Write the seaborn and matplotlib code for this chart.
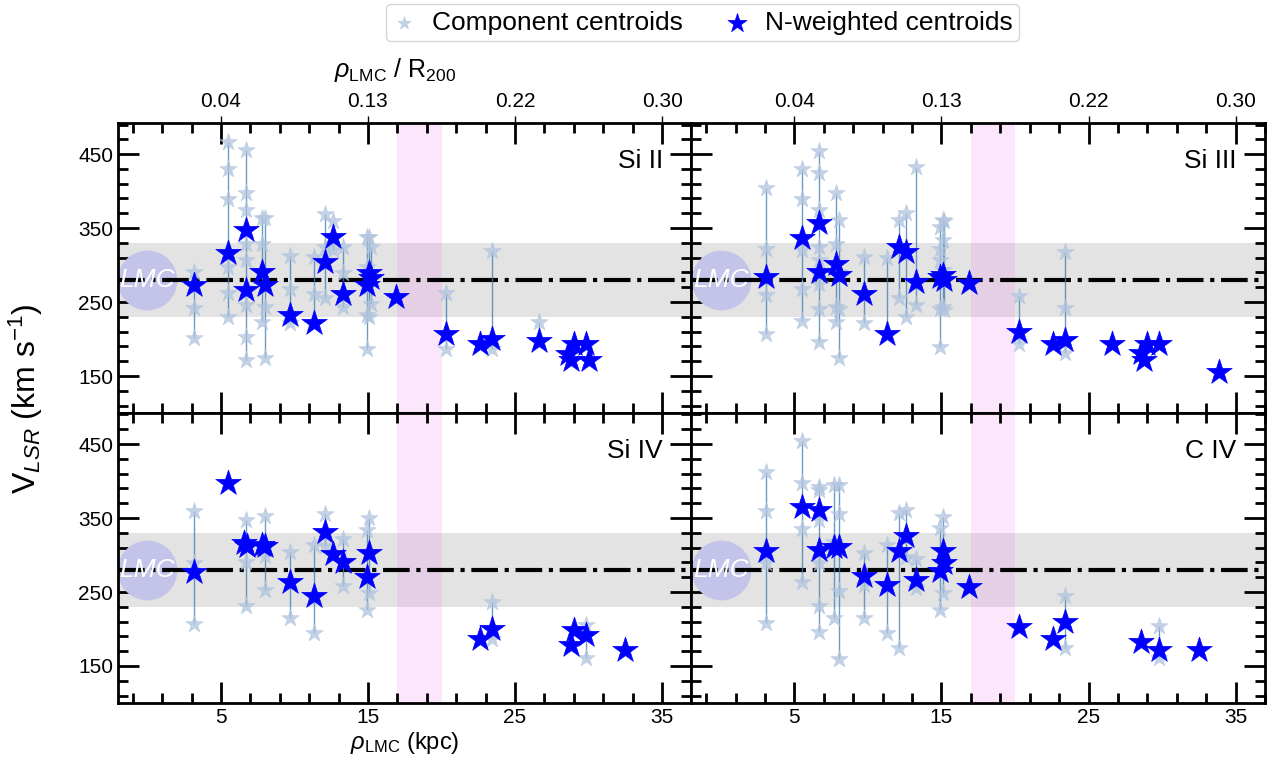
import numpy as np
import pandas as pd
import seaborn as sns
import matplotlib.pyplot as plt
from matplotlib.ticker import MultipleLocator, NullLocator

# ---- data (rho_LMC in kpc, V_LSR in km/s) ----
ions = ['Si II', 'Si III', 'Si IV', 'C IV']

# N-weighted centroids
si2_x = [3.2, 5.5, 6.7, 6.7, 7.8, 8.0, 9.7, 11.3, 12.1, 12.6, 13.3, 14.9, 15.1, 15.2, 16.9,
         20.3, 22.6, 23.4, 26.6, 29.0, 28.6, 28.8, 29.8, 30.0]
si2_v = [273, 316, 347, 266, 291, 273, 232, 222, 304, 338, 261, 273, 289, 282, 257,
         207, 193, 200, 198, 193, 180, 172, 193, 172]
si3_x = [3.1, 5.5, 6.7, 6.7, 7.8, 8.0, 9.7, 11.3, 12.1, 12.6, 13.3, 14.9, 15.1, 15.2, 16.9,
         20.3, 22.6, 23.4, 26.6, 29.0, 28.6, 28.8, 29.8, 33.9]
si3_v = [284, 337, 357, 291, 301, 286, 261, 207, 325, 317, 277, 284, 286, 280, 276,
         209, 193, 199, 193, 193, 181, 171, 193, 155]
si4_x = [3.2, 5.5, 6.6, 6.8, 7.8, 8.0, 9.7, 11.3, 12.1, 12.6, 13.3, 14.9, 15.1,
         22.6, 23.4, 29.0, 28.8, 29.8, 32.5]
si4_v = [277, 397, 316, 312, 314, 312, 264, 245, 331, 301, 290, 270, 303,
         186, 200, 198, 179, 192, 171]
c4_x = [3.1, 5.5, 6.7, 6.7, 7.7, 8.0, 9.7, 11.3, 12.1, 12.6, 13.3, 14.9, 15.1, 15.2, 16.9,
        20.3, 22.6, 23.4, 28.6, 29.8, 32.5]
c4_v = [305, 365, 361, 307, 311, 311, 271, 260, 305, 326, 266, 278, 305, 289, 257,
        203, 187, 209, 182, 171, 171]

# component centroids
si2_comp_x = [3.2, 3.2, 3.2,
              5.5, 5.5, 5.5, 5.5, 5.5, 5.5,
              6.7, 6.7, 6.7, 6.7, 6.7, 6.7, 6.7, 6.7,
              7.8, 7.8, 7.8, 8.0, 8.0, 8.0,
              9.7, 9.7, 9.7, 11.3, 11.3, 12.1, 12.1, 12.1, 12.6, 12.6,
              13.3, 13.3, 13.3, 14.9, 14.9, 14.9, 14.9, 15.1, 15.1, 15.1, 15.2, 15.2,
              20.3, 20.3, 23.4, 23.4, 26.6]
si2_comp_v = [291, 242, 202,
              467, 430, 389, 298, 262, 230,
              456, 398, 375, 328, 307, 246, 203, 171,
              363, 329, 223, 363, 243, 174,
              312, 267, 221, 311, 261, 369, 325, 255, 360, 320,
              325, 289, 243, 338, 298, 232, 187, 338, 270, 230, 325, 248,
              262, 187, 319, 187, 223]
si3_comp_x = [3.1, 3.1, 3.1, 3.1,
              5.5, 5.5, 5.5, 5.5, 5.5,
              6.7, 6.7, 6.7, 6.7, 6.7, 6.7, 6.7, 6.7,
              7.8, 7.8, 7.8, 7.8, 8.0, 8.0, 8.0, 8.0,
              9.7, 9.7, 11.3, 12.1, 12.1, 12.6, 12.6, 13.3, 13.3,
              14.9, 14.9, 14.9, 14.9, 14.9, 15.1, 15.1, 15.1, 15.1, 15.2, 15.2,
              20.3, 20.3, 23.4, 23.4, 23.4]
si3_comp_v = [404, 322, 259, 207,
              430, 389, 320, 267, 225,
              454, 425, 374, 325, 307, 275, 241, 196,
              398, 329, 243, 223, 361, 291, 241, 174,
              311, 222, 309, 361, 255, 370, 230, 433, 246,
              352, 322, 307, 241, 189, 361, 334, 293, 243, 359, 239,
              258, 193, 318, 242, 181]
si4_comp_x = [3.2, 3.2, 3.2, 6.7, 6.7, 6.7, 8.0, 8.0, 8.0,
              9.7, 9.7, 11.3, 11.3, 12.1, 12.1, 13.3, 13.3,
              14.9, 14.9, 15.1, 15.1, 23.4, 23.4, 29.8, 29.8]
si4_comp_v = [359, 289, 207, 348, 290, 231, 353, 299, 253,
              304, 215, 313, 195, 356, 312, 322, 258,
              334, 226, 350, 249, 237, 186, 206, 161]
c4_comp_x = [3.1, 3.1, 3.1, 3.1, 5.5, 5.5, 5.5, 5.5,
             6.7, 6.7, 6.7, 6.7, 6.7, 6.7, 7.7, 7.7, 7.7, 8.0, 8.0, 8.0, 8.0,
             9.7, 9.7, 9.7, 11.3, 11.3, 12.1, 12.1, 12.6, 12.6, 13.3, 13.3,
             14.9, 14.9, 15.1, 15.1, 23.4, 23.4, 29.8, 29.8]
c4_comp_v = [412, 359, 289, 208, 454, 397, 335, 263,
             392, 388, 348, 289, 231, 196, 395, 317, 215, 394, 355, 252, 159,
             303, 260, 215, 313, 195, 357, 174, 361, 298, 295, 255,
             337, 226, 351, 249, 244, 174, 204, 161]

# top axis: rho / R200 labels at the kpc major ticks
kpc_ticks = [5, 15, 25, 35]
r200_labels = ['0.04', '0.13', '0.22', '0.30']

nw_x = [si2_x, si3_x, si4_x, c4_x]
nw_v = [si2_v, si3_v, si4_v, c4_v]
comp_x = [si2_comp_x, si3_comp_x, si4_comp_x, c4_comp_x]
comp_v = [si2_comp_v, si3_comp_v, si4_comp_v, c4_comp_v]

sns.set_style('ticks')
plt.rcParams['font.family'] = ['Liberation Sans', 'DejaVu Sans']
plt.rcParams['mathtext.fontset'] = 'custom'
plt.rcParams['mathtext.rm'] = 'Liberation Sans'
plt.rcParams['mathtext.it'] = 'Liberation Sans:italic'
for key in ['text.color', 'axes.labelcolor', 'xtick.color', 'ytick.color', 'axes.edgecolor']:
    plt.rcParams[key] = 'black'

fig, axes = plt.subplots(2, 2, figsize=(12.77, 7.58), dpi=100, sharex=True, sharey=True)
fig.subplots_adjust(left=0.0924, right=0.9906, bottom=0.0726, top=0.8377, wspace=0, hspace=0)

for i, ax in enumerate(axes.flat):
    cdf = pd.DataFrame({'x': comp_x[i], 'v': comp_v[i]})
    ndf = pd.DataFrame({'x': nw_x[i], 'v': nw_v[i]})

    ax.axhspan(230, 330, color='gray', alpha=0.22, lw=0, zorder=0)
    ax.axvspan(17, 20, color='violet', alpha=0.2, lw=0, zorder=0)
    ax.axhline(280, color='k', ls='-.', lw=3, zorder=2)
    ax.plot([0], [280], 'o', ms=42, color='#c4c4ea', zorder=1)
    ax.text(0, 280, 'LMC', color='white', style='italic', ha='center', va='center',
            fontsize=19, zorder=3)

    # vertical lines joining the components of each sightline
    for xv, grp in cdf.groupby('x'):
        vals = list(grp['v']) + list(ndf.loc[(ndf['x'] - xv).abs() < 0.05, 'v'])
        if max(vals) > min(vals):
            ax.vlines(xv, min(vals), max(vals), color='steelblue', lw=1, alpha=0.8, zorder=2)

    sns.scatterplot(data=cdf, x='x', y='v', ax=ax, marker='*', s=170, color='lightsteelblue',
                    alpha=0.75, edgecolor='lightsteelblue', linewidth=0.5, zorder=3,
                    label='Component centroids')
    sns.scatterplot(data=ndf, x='x', y='v', ax=ax, marker='*', s=370, color='blue',
                    edgecolor='blue', linewidth=0.5, zorder=4, label='N-weighted centroids')
    handles, labels = ax.get_legend_handles_labels()
    ax.get_legend().remove()

    ax.text(0.95, 0.87, ions[i], transform=ax.transAxes, ha='right', va='center', fontsize=19)

    ax.set_xlim(-2, 37)
    ax.set_ylim(100, 492)
    ax.set_xticks(kpc_ticks)
    ax.set_yticks([150, 250, 350, 450])
    ax.xaxis.set_minor_locator(MultipleLocator(2, offset=1))
    ax.yaxis.set_minor_locator(MultipleLocator(20, offset=10))
    ax.tick_params(which='both', direction='in', top=True, right=True, width=2,
                   labelsize=15)
    ax.tick_params(which='major', length=15)
    ax.tick_params(which='minor', length=7)
    for sp in ax.spines.values():
        sp.set_linewidth(2)
    ax.set_xlabel('')
    ax.set_ylabel('')

    if i < 2:
        sec = ax.secondary_xaxis('top')
        sec.set_xticks(kpc_ticks, labels=r200_labels)
        sec.xaxis.set_minor_locator(NullLocator())
        sec.tick_params(direction='out', length=5, width=1, labelsize=15)
        sec.spines['top'].set_visible(False)

axes[1, 0].set_xlabel(r'$\rho_{\rm LMC}$ (kpc)', fontsize=17, labelpad=2)
fig.text(395 / 1277, 1 - 70 / 758, r'$\rho_{\rm LMC}$ / R$_{200}$', ha='center', va='center',
         fontsize=18)
fig.text(0.02, 0.474, r'V$_{LSR}$ (km s$^{-1}$)', rotation=90, ha='center', va='center',
         fontsize=23)

fig.legend(handles, labels, loc='upper center', bbox_to_anchor=(0.55, 1.0), ncol=2,
           fontsize=19, frameon=True, fancybox=True, edgecolor='#cccccc',
           markerscale=0.75, handlelength=0.9, handletextpad=0.6, columnspacing=1.6,
           borderpad=0.25, borderaxespad=0.15)

fig.savefig('out.png', dpi=100)
